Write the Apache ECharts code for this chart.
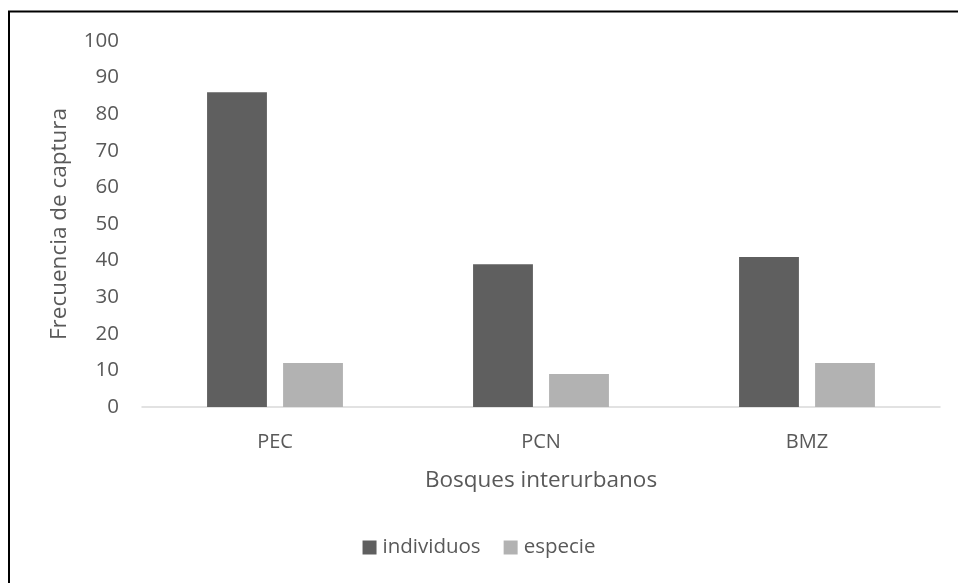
<!DOCTYPE html>
<html>
<head>
<meta charset="utf-8">
<script src="https://cdn.jsdelivr.net/npm/echarts@6/dist/echarts.min.js"></script>
<style>
  html, body { margin: 0; padding: 0; background: #fff; }
  #chart { width: 958px; height: 583px; }
</style>
</head>
<body>
<div id="chart"></div>
<script>
// Capture frequency per interurban forest
const categories = ['PEC', 'PCN', 'BMZ'];
const individuos = [86, 39, 41];
const especie = [12, 9, 12];
const yTicks = { min: 0, max: 100, interval: 10 };

const textColor = '#595959';
const fontFamily = '"Open Sans", Lato, sans-serif';

const chart = echarts.init(document.getElementById('chart'), null, { renderer: 'canvas' });

chart.setOption({
  backgroundColor: '#ffffff',
  animation: false,
  graphic: [{
    type: 'rect',
    shape: { x: 9, y: 11.5, width: 1200, height: 1200 },
    style: { fill: 'none', stroke: '#000000', lineWidth: 2 },
    silent: true
  }],
  grid: { left: 142, right: 18, top: 41, bottom: 176 },
  legend: {
    data: ['individuos', 'especie'],
    bottom: 20,
    left: 'center',
    itemWidth: 14,
    itemHeight: 14,
    itemGap: 23,
    icon: 'rect',
    textStyle: { color: textColor, fontSize: 20.5, fontFamily: fontFamily, padding: [0, 0, 0, 1] }
  },
  xAxis: {
    type: 'category',
    data: categories,
    name: 'Bosques interurbanos',
    nameLocation: 'middle',
    nameGap: 62,
    nameTextStyle: { color: textColor, fontSize: 22.5, fontFamily: fontFamily },
    axisLine: { show: true, lineStyle: { color: '#d9d9d9', width: 1.5 } },
    axisTick: { show: false },
    axisLabel: { color: textColor, fontSize: 20, fontFamily: fontFamily, margin: 25 },
    splitLine: { show: false }
  },
  yAxis: {
    type: 'value',
    min: yTicks.min,
    max: yTicks.max,
    interval: yTicks.interval,
    name: 'Frecuencia de captura',
    nameLocation: 'middle',
    nameGap: 71,
    nameRotate: 90,
    nameTextStyle: { color: textColor, fontSize: 22.5, fontFamily: fontFamily },
    axisLine: { show: false },
    axisTick: { show: false },
    axisLabel: { color: textColor, fontSize: 20.5, fontFamily: fontFamily, margin: 23 },
    splitLine: { show: false }
  },
  series: [
    {
      name: 'individuos',
      type: 'bar',
      data: individuos,
      barWidth: '22.5%',
      barGap: '27%',
      itemStyle: { color: '#5f5f5f' }
    },
    {
      name: 'especie',
      type: 'bar',
      data: especie,
      barWidth: '22.5%',
      itemStyle: { color: '#b2b2b2' }
    }
  ]
});
</script>
</body>
</html>
